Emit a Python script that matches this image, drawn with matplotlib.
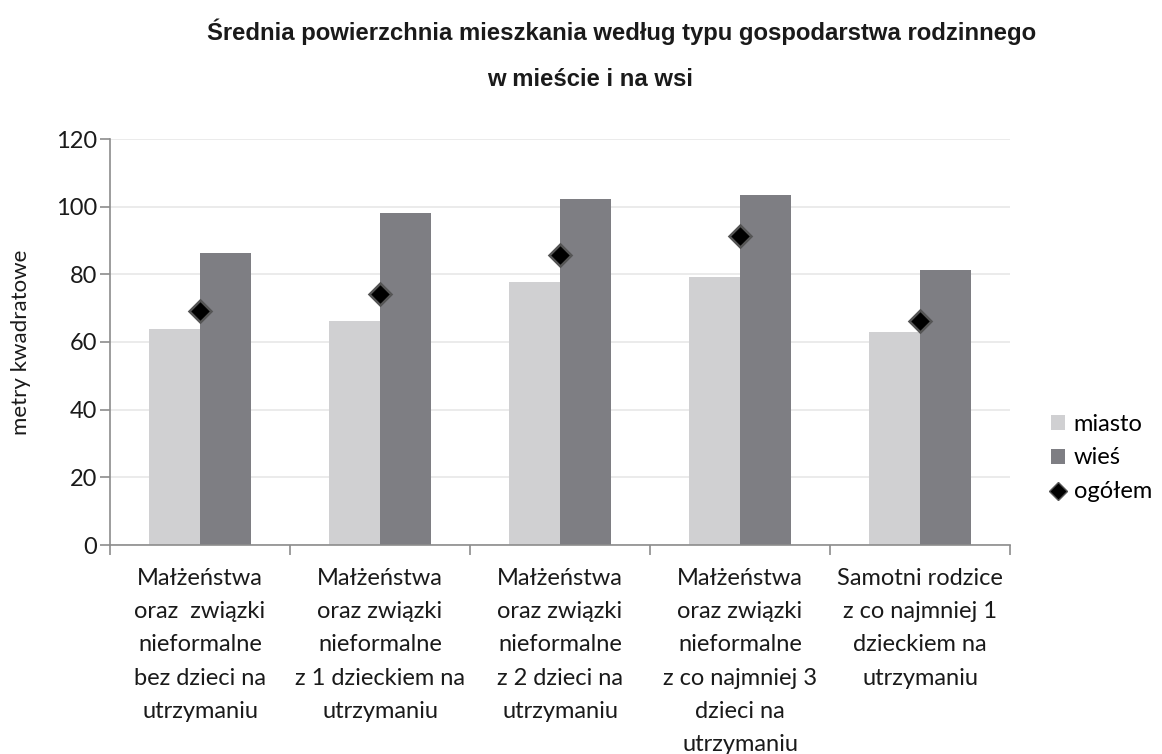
import numpy as np
import matplotlib
matplotlib.use("Agg")
import matplotlib.pyplot as plt
from matplotlib.lines import Line2D
from matplotlib.patches import Patch

# data
categories = [
    "Małżeństwa\noraz  związki\nnieformalne\nbez dzieci na\nutrzymaniu",
    "Małżeństwa\noraz związki\nnieformalne\nz 1 dzieckiem na\nutrzymaniu",
    "Małżeństwa\noraz związki\nnieformalne\nz 2 dzieci na\nutrzymaniu",
    "Małżeństwa\noraz związki\nnieformalne\nz co najmniej 3\ndzieci na\nutrzymaniu",
    "Samotni rodzice\nz co najmniej 1\ndzieckiem na\nutrzymaniu",
]
miasto = [63.7, 66.3, 77.6, 79.1, 62.9]
wies = [86.4, 98.1, 102.3, 103.4, 81.4]
ogolem = [69.3, 74.2, 85.6, 91.2, 66.3]

C_MIASTO = "#d0d0d2"
C_WIES = "#7e7e83"
TEXT_FONT = ["Lato", "DejaVu Sans"]
TITLE_FONT = ["Liberation Sans Narrow", "Liberation Sans", "DejaVu Sans"]

plt.rcParams["font.family"] = TEXT_FONT

fig = plt.figure(figsize=(11.62, 7.54), dpi=100)
ax = fig.add_axes([110 / 1162, 1 - 545 / 754, 900 / 1162, 406 / 754])

x = np.arange(len(categories))
w = 0.285
ax.bar(x - w / 2, miasto, width=w, color=C_MIASTO, zorder=2)
ax.bar(x + w / 2, wies, width=w, color=C_WIES, zorder=2)
ax.plot(x, ogolem, linestyle="none", marker="D", markersize=11,
        markerfacecolor="black", markeredgecolor="#555555", markeredgewidth=1.8, zorder=3)

ax.set_xlim(-0.5, len(categories) - 0.5)
ax.set_ylim(0, 120)
ax.set_yticks(range(0, 121, 20))
ax.yaxis.grid(True, color="#e8e8e8", linewidth=1.2, zorder=0)
ax.set_axisbelow(True)

for side in ["top", "right"]:
    ax.spines[side].set_visible(False)
for side in ["left", "bottom"]:
    ax.spines[side].set_color("#8c8c8c")
    ax.spines[side].set_linewidth(1.2)

# category boundaries carry the x ticks
ax.set_xticks(np.arange(-0.5, len(categories), 1.0))
ax.set_xticklabels([])
ax.tick_params(axis="x", length=7, color="#8c8c8c", width=1.2)
ax.tick_params(axis="y", length=7, color="#8c8c8c", width=1.2, labelsize=17, pad=2)
for lbl in ax.get_yticklabels():
    lbl.set_color("#1a1a1a")

for i, cat in enumerate(categories):
    ax.text(i, -6.8, cat, ha="center", va="top", fontsize=17, linespacing=1.72,
            color="#1a1a1a", transform=ax.transData, clip_on=False)

ax.set_ylabel("metry kwadratowe", fontsize=16, color="#1a1a1a", labelpad=18)

fig.text(622 / 1162, 1 - 32 / 754, "Średnia powierzchnia mieszkania według typu gospodarstwa rodzinnego",
         ha="center", va="center", fontsize=17.2, fontweight="bold", family=TITLE_FONT, color="#1a1a1a")
fig.text(590 / 1162, 1 - 80 / 754, "w mieście i na wsi",
         ha="center", va="center", fontsize=17.2, fontweight="bold", family=TITLE_FONT, color="#1a1a1a")

handles = [
    Patch(facecolor=C_MIASTO, label="miasto"),
    Patch(facecolor=C_WIES, label="wieś"),
    Line2D([], [], linestyle="none", marker="D", markersize=9, markerfacecolor="black",
           markeredgecolor="#555555", label="ogółem"),
]
fig.legend(handles=handles, loc="center left", bbox_to_anchor=(1030 / 1162, 1 - 458 / 754),
           frameon=False, fontsize=17, handlelength=0.6, handleheight=0.6,
           handletextpad=0.35, labelspacing=0.55)

fig.savefig("out.png", dpi=100)
